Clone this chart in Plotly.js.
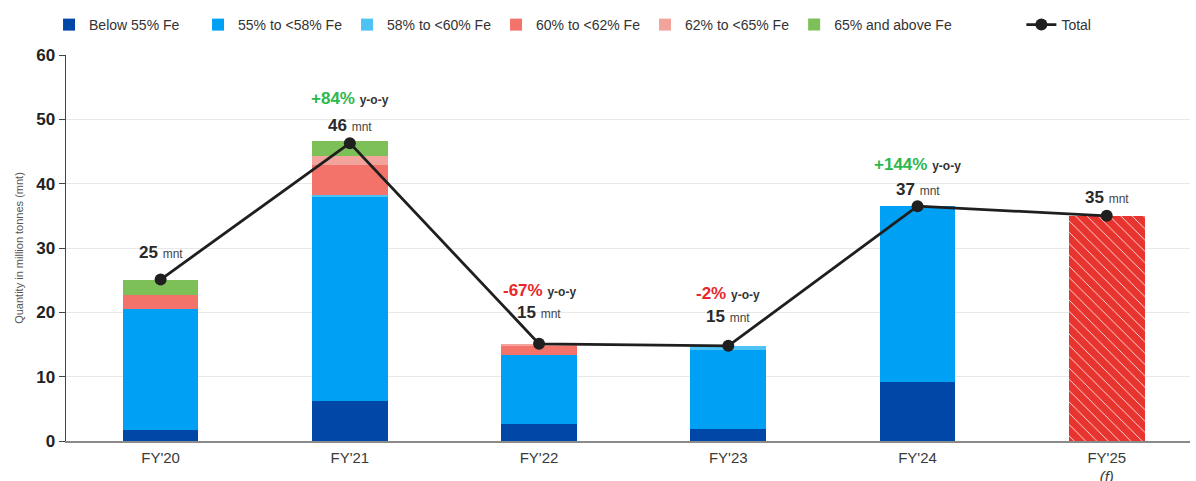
<!DOCTYPE html>
<html>
<head>
<meta charset="utf-8">
<script src="https://cdn.plot.ly/plotly-3.0.1.min.js"></script>
<style>html,body{margin:0;padding:0;background:#fff;}#chart{width:1196px;height:481px;}</style>
</head>
<body>
<div id="chart"></div>
<script>
const categories = ["FY'20", "FY'21", "FY'22", "FY'23", "FY'24", "FY'25"];
const tickLabels = ["FY'20", "FY'21", "FY'22", "FY'23", "FY'24", "FY'25<br><i>(f)</i>"];
const below55 = [1.7, 6.2, 2.7, 1.9, 9.2, null];
const fe55to58 = [18.8, 31.7, 10.7, 12.3, 27.3, null];
const fe58to60 = [0, 0.3, 0, 0.6, 0, null];
const fe60to62 = [2.2, 4.7, 1.4, 0, 0, null];
const fe62to65 = [0, 1.4, 0.3, 0, 0, null];
const fe65plus = [2.4, 2.3, 0, 0, 0, null];
const forecast = [null, null, null, null, null, 35.0];
const total = [25.1, 46.3, 15.1, 14.8, 36.5, 35.0];
const totalLabels = ["25", "46", "15", "15", "37", "35"];
const yoyLabels = [null, "+84%", "-67%", "-2%", "+144%", null];

const seriesNames = ["Below 55% Fe", "55% to <58% Fe", "58% to <60% Fe", "60% to <62% Fe", "62% to <65% Fe", "65% and above Fe"];
const seriesValues = [below55, fe55to58, fe58to60, fe60to62, fe62to65, fe65plus];
const seriesColors = ["#0047a8", "#00a0f4", "#4cc3f2", "#f3736b", "#f2a49c", "#7cc057"];

// label placement (pixels above the total point)
const valueShift = [27, 18, 31, 29, 17, 18];
const yoyShift = [0, 45, 53, 52, 42, 0];
const legendGroups = ['legend', 'legend', 'legend', 'legend', 'legend', 'legend3'];

const traces = seriesNames.map((n, i) => ({
  type: 'bar', name: n, x: categories, y: seriesValues[i],
  marker: {color: seriesColors[i], line: {width: 0}},
  width: 0.4, hoverinfo: 'skip', legend: legendGroups[i]
}));
traces.push({
  type: 'bar', name: 'Forecast', x: categories, y: forecast, showlegend: false,
  width: 0.4,
  marker: {color: '#e8342f', line: {width: 0},
    pattern: {shape: '\\', fgcolor: '#ffffff', bgcolor: '#e8342f', size: 8, solidity: 0.1}}
});
traces.push({
  type: 'scatter', mode: 'lines+markers', name: 'Total', x: categories, y: total,
  line: {color: '#1f1f1f', width: 2.8},
  marker: {color: '#1f1f1f', size: 12}, legend: 'legend2'
});

const annotations = [];
categories.forEach((c, i) => {
  annotations.push({
    x: c, y: total[i], xref: 'x', yref: 'y', yshift: valueShift[i], showarrow: false,
    text: '<b>' + totalLabels[i] + '</b> <span style="font-size:12px;color:#444">mnt</span>',
    font: {family: 'Arial, Liberation Sans, sans-serif', size: 17, color: '#2a2a2a'}
  });
  if (yoyLabels[i]) {
    const col = yoyLabels[i].startsWith('+') ? '#2eb84b' : '#e8262c';
    annotations.push({
      x: c, y: total[i], xref: 'x', yref: 'y', yshift: yoyShift[i], showarrow: false,
      text: '<b><span style="color:' + col + '">' + yoyLabels[i] + '</span> <span style="font-size:12px;color:#333">y-o-y</span></b>',
      font: {family: 'Arial, Liberation Sans, sans-serif', size: 17, color: col}
    });
  }
});

const legendCommon = {orientation: 'h', xanchor: 'left', xref: 'container', y: 0.948, yref: 'container', yanchor: 'middle',
  font: {size: 14, color: '#333'}, traceorder: 'normal', itemwidth: 30, bgcolor: 'rgba(0,0,0,0)'};

const layout = {
  width: 1196, height: 481,
  margin: {l: 66, r: 6, t: 55, b: 40, autoexpand: false},
  barmode: 'stack',
  paper_bgcolor: '#ffffff', plot_bgcolor: '#ffffff',
  font: {family: 'Arial, Liberation Sans, sans-serif', color: '#333'},
  showlegend: true,
  legend: Object.assign({}, legendCommon, {x: 0.041, entrywidth: 104, entrywidthmode: 'pixels'}),
  legend3: Object.assign({}, legendCommon, {x: 0.664}),
  legend2: Object.assign({}, legendCommon, {x: 0.854}),
  xaxis: {
    type: 'category', range: [-0.5, 5.44],
    tickvals: categories, ticktext: tickLabels,
    showline: true, linecolor: '#8a8a8a', linewidth: 1.5,
    ticks: '', showgrid: false, zeroline: false,
    ticklabelstandoff: 2,
    tickfont: {size: 15, color: '#3a3a3a'}
  },
  yaxis: {
    range: [0, 60], dtick: 10,
    showline: true, linecolor: '#444', linewidth: 1.5,
    ticks: 'outside', ticklen: 6, tickcolor: '#444',
    showgrid: true, gridcolor: '#e8e8e8', gridwidth: 1, zeroline: false,
    tickfont: {size: 17, color: '#222', weight: 'bold'},
    title: {text: 'Quantity in million tonnes (mnt)', font: {size: 11, color: '#555'}, standoff: 10}
  },
  annotations: annotations
};

Plotly.newPlot('chart', traces, layout, {displayModeBar: false, staticPlot: true});
</script>
</body>
</html>
